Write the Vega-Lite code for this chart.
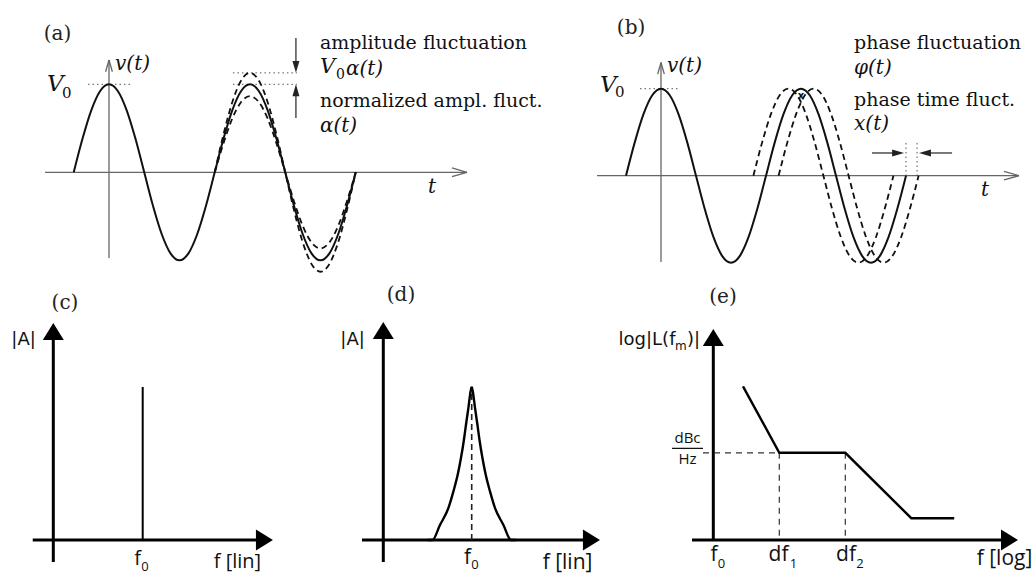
{
  "$schema": "https://vega.github.io/schema/vega-lite/v6.json",
  "padding": 0,
  "background": "white",
  "spacing": 0,
  "config": {"view": {"stroke": null, "fill": "white"}, "concat": {"spacing": 0}},
  "datasets": {
    "carrier": [
      {"x": -0.25, "y": 0}, {"x": -0.1875, "y": 0.383}, {"x": -0.125, "y": 0.707}, {"x": -0.0625, "y": 0.924},
      {"x": 0, "y": 1}, {"x": 0.0625, "y": 0.924}, {"x": 0.125, "y": 0.707}, {"x": 0.1875, "y": 0.383},
      {"x": 0.25, "y": 0}, {"x": 0.3125, "y": -0.383}, {"x": 0.375, "y": -0.707}, {"x": 0.4375, "y": -0.924},
      {"x": 0.5, "y": -1}, {"x": 0.5625, "y": -0.924}, {"x": 0.625, "y": -0.707}, {"x": 0.6875, "y": -0.383},
      {"x": 0.75, "y": 0}, {"x": 0.8125, "y": 0.383}, {"x": 0.875, "y": 0.707}, {"x": 0.9375, "y": 0.924},
      {"x": 1, "y": 1}, {"x": 1.0625, "y": 0.924}, {"x": 1.125, "y": 0.707}, {"x": 1.1875, "y": 0.383},
      {"x": 1.25, "y": 0}, {"x": 1.3125, "y": -0.383}, {"x": 1.375, "y": -0.707}, {"x": 1.4375, "y": -0.924},
      {"x": 1.5, "y": -1}, {"x": 1.5625, "y": -0.924}, {"x": 1.625, "y": -0.707}, {"x": 1.6875, "y": -0.383},
      {"x": 1.75, "y": 0}
    ],
    "a_band": [
      {"g": "upper", "x": 0.75, "y": 0}, {"g": "upper", "x": 0.8125, "y": 0.433}, {"g": "upper", "x": 0.875, "y": 0.799}, {"g": "upper", "x": 0.9375, "y": 1.044},
      {"g": "upper", "x": 1, "y": 1.13}, {"g": "upper", "x": 1.0625, "y": 1.044}, {"g": "upper", "x": 1.125, "y": 0.799}, {"g": "upper", "x": 1.1875, "y": 0.433},
      {"g": "upper", "x": 1.25, "y": 0}, {"g": "upper", "x": 1.3125, "y": -0.433}, {"g": "upper", "x": 1.375, "y": -0.799}, {"g": "upper", "x": 1.4375, "y": -1.044},
      {"g": "upper", "x": 1.5, "y": -1.13}, {"g": "upper", "x": 1.5625, "y": -1.044}, {"g": "upper", "x": 1.625, "y": -0.799}, {"g": "upper", "x": 1.6875, "y": -0.433},
      {"g": "upper", "x": 1.75, "y": 0},
      {"g": "lower", "x": 0.75, "y": 0}, {"g": "lower", "x": 0.8125, "y": 0.331}, {"g": "lower", "x": 0.875, "y": 0.612}, {"g": "lower", "x": 0.9375, "y": 0.799},
      {"g": "lower", "x": 1, "y": 0.865}, {"g": "lower", "x": 1.0625, "y": 0.799}, {"g": "lower", "x": 1.125, "y": 0.612}, {"g": "lower", "x": 1.1875, "y": 0.331},
      {"g": "lower", "x": 1.25, "y": 0}, {"g": "lower", "x": 1.3125, "y": -0.331}, {"g": "lower", "x": 1.375, "y": -0.612}, {"g": "lower", "x": 1.4375, "y": -0.799},
      {"g": "lower", "x": 1.5, "y": -0.865}, {"g": "lower", "x": 1.5625, "y": -0.799}, {"g": "lower", "x": 1.625, "y": -0.612}, {"g": "lower", "x": 1.6875, "y": -0.331},
      {"g": "lower", "x": 1.75, "y": 0}
    ],
    "b_band": [
      {"g": "lead", "x": 0.66, "y": 0}, {"g": "lead", "x": 0.7225, "y": 0.383}, {"g": "lead", "x": 0.785, "y": 0.707}, {"g": "lead", "x": 0.8475, "y": 0.924},
      {"g": "lead", "x": 0.91, "y": 1}, {"g": "lead", "x": 0.9725, "y": 0.924}, {"g": "lead", "x": 1.035, "y": 0.707}, {"g": "lead", "x": 1.0975, "y": 0.383},
      {"g": "lead", "x": 1.16, "y": 0}, {"g": "lead", "x": 1.2225, "y": -0.383}, {"g": "lead", "x": 1.285, "y": -0.707}, {"g": "lead", "x": 1.3475, "y": -0.924},
      {"g": "lead", "x": 1.41, "y": -1}, {"g": "lead", "x": 1.4725, "y": -0.924}, {"g": "lead", "x": 1.535, "y": -0.707}, {"g": "lead", "x": 1.5975, "y": -0.383},
      {"g": "lead", "x": 1.66, "y": 0},
      {"g": "lag", "x": 0.84, "y": 0}, {"g": "lag", "x": 0.9025, "y": 0.383}, {"g": "lag", "x": 0.965, "y": 0.707}, {"g": "lag", "x": 1.0275, "y": 0.924},
      {"g": "lag", "x": 1.09, "y": 1}, {"g": "lag", "x": 1.1525, "y": 0.924}, {"g": "lag", "x": 1.215, "y": 0.707}, {"g": "lag", "x": 1.2775, "y": 0.383},
      {"g": "lag", "x": 1.34, "y": 0}, {"g": "lag", "x": 1.4025, "y": -0.383}, {"g": "lag", "x": 1.465, "y": -0.707}, {"g": "lag", "x": 1.5275, "y": -0.924},
      {"g": "lag", "x": 1.59, "y": -1}, {"g": "lag", "x": 1.6525, "y": -0.924}, {"g": "lag", "x": 1.715, "y": -0.707}, {"g": "lag", "x": 1.7775, "y": -0.383},
      {"g": "lag", "x": 1.84, "y": 0}
    ],
    "a_seg": [
      {"k": "axis", "x": -0.454, "y": 0, "x2": 2.539, "y2": 0},
      {"k": "axis", "x": 0, "y": -0.974, "x2": 0, "y2": 1.276},
      {"k": "axis", "x": 2.433, "y": 0.049, "x2": 2.539, "y2": 0},
      {"k": "axis", "x": 2.433, "y": -0.049, "x2": 2.539, "y2": 0},
      {"k": "axis", "x": -0.024, "y": 1.143, "x2": 0, "y2": 1.276},
      {"k": "axis", "x": 0.024, "y": 1.143, "x2": 0, "y2": 1.276},
      {"k": "guide", "x": -0.149, "y": 1, "x2": 0.149, "y2": 1},
      {"k": "guide", "x": 0.879, "y": 1, "x2": 1.333, "y2": 1},
      {"k": "guide", "x": 0.879, "y": 1.13, "x2": 1.333, "y2": 1.13},
      {"k": "arrow", "x": 1.326, "y": 1.526, "x2": 1.326, "y2": 1.19},
      {"k": "arrow", "x": 1.326, "y": 0.617, "x2": 1.326, "y2": 0.95}
    ],
    "a_head": [
      {"x": 1.326, "y": 1.13, "angle": 180},
      {"x": 1.326, "y": 1.0, "angle": 0}
    ],
    "a_text": [
      {"k": "tag", "x": -0.365, "y": 1.572, "text": "(a)"},
      {"k": "math", "x": 0.043, "y": 1.236, "text": "v(t)"},
      {"k": "V", "x": -0.44, "y": 1.003, "text": "V"},
      {"k": "sub", "x": -0.333, "y": 0.901, "text": "0"},
      {"k": "axis", "x": 2.291, "y": -0.167, "text": "t"},
      {"k": "note", "x": 1.496, "y": 1.469, "text": "amplitude fluctuation"},
      {"k": "Vs", "x": 1.496, "y": 1.191, "text": "V"},
      {"k": "subs", "x": 1.61, "y": 1.106, "text": "0"},
      {"k": "math", "x": 1.681, "y": 1.174, "text": "α(t)"},
      {"k": "note", "x": 1.496, "y": 0.81, "text": "normalized ampl. fluct."},
      {"k": "math", "x": 1.496, "y": 0.526, "text": "α(t)"}
    ],
    "b_seg": [
      {"k": "axis", "x": -0.457, "y": 0, "x2": 2.557, "y2": 0},
      {"k": "axis", "x": 0, "y": -0.992, "x2": 0, "y2": 1.301},
      {"k": "axis", "x": 2.45, "y": 0.049, "x2": 2.557, "y2": 0},
      {"k": "axis", "x": 2.45, "y": -0.049, "x2": 2.557, "y2": 0},
      {"k": "axis", "x": -0.0236, "y": 1.167, "x2": 0, "y2": 1.301},
      {"k": "axis", "x": 0.0236, "y": 1.167, "x2": 0, "y2": 1.301},
      {"k": "guide", "x": -0.15, "y": 1, "x2": 0.136, "y2": 1},
      {"k": "guide", "x": 1.75, "y": 0.376, "x2": 1.75, "y2": -0.015},
      {"k": "guide", "x": 1.829, "y": 0.376, "x2": 1.829, "y2": -0.015},
      {"k": "arrow", "x": 1.507, "y": 0.261, "x2": 1.7, "y2": 0.261},
      {"k": "arrow", "x": 2.079, "y": 0.261, "x2": 1.88, "y2": 0.261}
    ],
    "b_head": [
      {"x": 1.736, "y": 0.261, "angle": 90},
      {"x": 1.843, "y": 0.261, "angle": 270}
    ],
    "b_text": [
      {"k": "tag", "x": -0.214, "y": 1.698, "text": "(b)"},
      {"k": "math", "x": 0.043, "y": 1.261, "text": "v(t)"},
      {"k": "V", "x": -0.436, "y": 1.042, "text": "V"},
      {"k": "sub", "x": -0.329, "y": 0.962, "text": "0"},
      {"k": "axis", "x": 2.314, "y": -0.165, "text": "t"},
      {"k": "note", "x": 1.379, "y": 1.525, "text": "phase fluctuation"},
      {"k": "math", "x": 1.379, "y": 1.238, "text": "φ(t)"},
      {"k": "note", "x": 1.379, "y": 0.87, "text": "phase time fluct."},
      {"k": "math", "x": 1.379, "y": 0.594, "text": "x(t)"},
      {"k": "mark", "x": 1.0, "y": 0.916, "text": "x"}
    ],
    "c_seg": [
      {"k": "axis", "x": 0, "y": -0.144, "x2": 0, "y2": 1.33},
      {"k": "axis", "x": -0.23, "y": 0, "x2": 2.35, "y2": 0},
      {"k": "line", "x": 1, "y": 0, "x2": 1, "y2": 1}
    ],
    "c_head": [
      {"x": 0, "y": 1.418, "angle": 0},
      {"x": 2.457, "y": 0, "angle": 90}
    ],
    "c_text": [
      {"k": "tag", "x": 0.131, "y": 1.549, "text": "(c)"},
      {"k": "ylab", "x": -0.333, "y": 1.307, "text": "|A|"},
      {"k": "lab", "x": 0.942, "y": -0.124, "text": "f"},
      {"k": "sub", "x": 1.026, "y": -0.176, "text": "0"},
      {"k": "lab", "x": 2.06, "y": -0.144, "text": "f [lin]"}
    ],
    "d_seg": [
      {"k": "axis", "x": 0, "y": -0.1435, "x2": 0, "y2": 1.33},
      {"k": "axis", "x": -0.241, "y": 0, "x2": 2.35, "y2": 0},
      {"k": "guide", "x": 1, "y": 0, "x2": 1, "y2": 1}
    ],
    "d_head": [
      {"x": 0, "y": 1.422, "angle": 0},
      {"x": 2.451, "y": 0, "angle": 90}
    ],
    "d_curve": [
      {"g": "left", "x": 0.5, "y": 0},
      {"g": "left", "x": 0.555, "y": 0}, {"g": "left", "x": 0.641, "y": 0.098}, {"g": "left", "x": 0.736, "y": 0.208},
      {"g": "left", "x": 0.793, "y": 0.317}, {"g": "left", "x": 0.842, "y": 0.427}, {"g": "left", "x": 0.879, "y": 0.536},
      {"g": "left", "x": 0.91, "y": 0.646}, {"g": "left", "x": 0.936, "y": 0.755}, {"g": "left", "x": 0.963, "y": 0.864},
      {"g": "left", "x": 0.989, "y": 0.974}, {"g": "left", "x": 1, "y": 1},
      {"g": "right", "x": 1, "y": 1}, {"g": "right", "x": 1.011, "y": 0.974}, {"g": "right", "x": 1.037, "y": 0.864},
      {"g": "right", "x": 1.064, "y": 0.755}, {"g": "right", "x": 1.09, "y": 0.646}, {"g": "right", "x": 1.121, "y": 0.536},
      {"g": "right", "x": 1.158, "y": 0.427}, {"g": "right", "x": 1.207, "y": 0.317}, {"g": "right", "x": 1.264, "y": 0.208},
      {"g": "right", "x": 1.359, "y": 0.098}, {"g": "right", "x": 1.445, "y": 0},
      {"g": "right", "x": 1.5, "y": 0}
    ],
    "d_text": [
      {"k": "tag", "x": 0.2, "y": 1.598, "text": "(d)"},
      {"k": "ylab", "x": -0.348, "y": 1.305, "text": "|A|"},
      {"k": "lab", "x": 0.952, "y": -0.117, "text": "f"},
      {"k": "sub", "x": 1.037, "y": -0.163, "text": "0"},
      {"k": "lab", "x": 2.084, "y": -0.147, "text": "f [lin]"}
    ],
    "e_seg": [
      {"k": "axis", "x": 0, "y": -170, "x2": 0, "y2": -78},
      {"k": "axis", "x": -0.323, "y": -170, "x2": 4.45, "y2": -170},
      {"k": "guide", "x": -0.156, "y": -130, "x2": 1, "y2": -130},
      {"k": "guide", "x": 1, "y": -130, "x2": 1, "y2": -170},
      {"k": "guide", "x": 2, "y": -130, "x2": 2, "y2": -170},
      {"k": "bar", "x": -0.626, "y": -127.94, "x2": -0.156, "y2": -127.94}
    ],
    "e_head": [
      {"x": 0, "y": -73.2, "angle": 0},
      {"x": 4.617, "y": -170, "angle": 90}
    ],
    "e_curve": [
      {"x": 0.45, "y": -99.5}, {"x": 1, "y": -130}, {"x": 2, "y": -130}, {"x": 3, "y": -160}, {"x": 3.65, "y": -160}
    ],
    "e_text": [
      {"k": "tag", "x": 0.147, "y": -58.53, "text": "(e)"},
      {"k": "ylabr", "x": -0.573, "y": -78.26, "text": "log|L(f"},
      {"k": "subr", "x": -0.402, "y": -81.0, "text": "m"},
      {"k": "ylabr", "x": -0.2015, "y": -78.26, "text": ")|"},
      {"k": "frac", "x": -0.391, "y": -123.44, "text": "dBc"},
      {"k": "frac", "x": -0.391, "y": -132.84, "text": "Hz"},
      {"k": "lab", "x": 0.0106, "y": -176.88, "text": "f"},
      {"k": "sub", "x": 0.124, "y": -180.78, "text": "0"},
      {"k": "lab", "x": 0.988, "y": -176.88, "text": "df"},
      {"k": "sub", "x": 1.215, "y": -181.0, "text": "1"},
      {"k": "lab", "x": 2.011, "y": -176.88, "text": "df"},
      {"k": "sub", "x": 2.223, "y": -181.0, "text": "2"},
      {"k": "lab", "x": 4.412, "y": -178.72, "text": "f [log]"}
    ]
  },
  "vconcat": [
    {
      "spacing": 0,
      "hconcat": [
        {
          "width": 560,
          "height": 280,
          "encoding": {
            "x": {"field": "x", "type": "quantitative", "scale": {"domain": [-0.773, 3.199], "nice": false, "zero": false}, "axis": null},
            "y": {"field": "y", "type": "quantitative", "scale": {"domain": [-1.224, 1.958], "nice": false, "zero": false}, "axis": null}
          },
          "layer": [
            {"data": {"name": "a_seg"}, "transform": [{"filter": "datum.k == 'axis'"}], "mark": {"type": "rule", "stroke": "#666", "strokeWidth": 1.3}, "encoding": {"x2": {"field": "x2"}, "y2": {"field": "y2"}}},
            {"data": {"name": "a_seg"}, "transform": [{"filter": "datum.k == 'guide'"}], "mark": {"type": "rule", "stroke": "#555", "strokeWidth": 1, "strokeDash": [1.5, 3]}, "encoding": {"x2": {"field": "x2"}, "y2": {"field": "y2"}}},
            {"data": {"name": "a_seg"}, "transform": [{"filter": "datum.k == 'arrow'"}], "mark": {"type": "rule", "stroke": "#222", "strokeWidth": 1.2}, "encoding": {"x2": {"field": "x2"}, "y2": {"field": "y2"}}},
            {"data": {"name": "a_head"}, "mark": {"type": "point", "shape": "M0,0L-0.5,1.7L0.5,1.7Z", "filled": true, "size": 196, "color": "#222", "opacity": 1}, "encoding": {"angle": {"field": "angle", "type": "quantitative", "scale": null}}},
            {"data": {"name": "carrier"}, "mark": {"type": "line", "interpolate": "monotone", "stroke": "#111", "strokeWidth": 2}, "encoding": {}},
            {"data": {"name": "a_band"}, "mark": {"type": "line", "interpolate": "monotone", "stroke": "#111", "strokeWidth": 1.8, "strokeDash": [6, 4]}, "encoding": {"detail": {"field": "g"}}},
            {"data": {"name": "a_text"}, "transform": [{"filter": "datum.k == 'tag'"}], "mark": {"type": "text", "font": "DejaVu Serif", "fontSize": 20, "align": "center", "baseline": "middle", "color": "#222"}, "encoding": {"text": {"field": "text"}}},
            {"data": {"name": "a_text"}, "transform": [{"filter": "datum.k == 'note'"}], "mark": {"type": "text", "font": "DejaVu Serif", "fontSize": 19, "align": "left", "baseline": "middle", "color": "#111"}, "encoding": {"text": {"field": "text"}}},
            {"data": {"name": "a_text"}, "transform": [{"filter": "datum.k == 'math'"}], "mark": {"type": "text", "font": "DejaVu Serif", "fontStyle": "italic", "fontSize": 20, "align": "left", "baseline": "middle", "color": "#111"}, "encoding": {"text": {"field": "text"}}},
            {"data": {"name": "a_text"}, "transform": [{"filter": "datum.k == 'axis'"}], "mark": {"type": "text", "font": "DejaVu Serif", "fontStyle": "italic", "fontSize": 20, "align": "center", "baseline": "middle", "color": "#111"}, "encoding": {"text": {"field": "text"}}},
            {"data": {"name": "a_text"}, "transform": [{"filter": "datum.k == 'V'"}], "mark": {"type": "text", "font": "DejaVu Serif", "fontStyle": "italic", "fontSize": 23, "align": "left", "baseline": "middle", "color": "#111"}, "encoding": {"text": {"field": "text"}}},
            {"data": {"name": "a_text"}, "transform": [{"filter": "datum.k == 'sub'"}], "mark": {"type": "text", "font": "DejaVu Serif", "fontSize": 15, "align": "left", "baseline": "middle", "color": "#111"}, "encoding": {"text": {"field": "text"}}},
            {"data": {"name": "a_text"}, "transform": [{"filter": "datum.k == 'Vs'"}], "mark": {"type": "text", "font": "DejaVu Serif", "fontStyle": "italic", "fontSize": 21, "align": "left", "baseline": "middle", "color": "#111"}, "encoding": {"text": {"field": "text"}}},
            {"data": {"name": "a_text"}, "transform": [{"filter": "datum.k == 'subs'"}], "mark": {"type": "text", "font": "DejaVu Serif", "fontSize": 14, "align": "left", "baseline": "middle", "color": "#111"}, "encoding": {"text": {"field": "text"}}}
          ]
        },
        {
          "width": 473,
          "height": 280,
          "encoding": {
            "x": {"field": "x", "type": "quantitative", "scale": {"domain": [-0.7214, 2.6571], "nice": false, "zero": false}, "axis": null},
            "y": {"field": "y", "type": "quantitative", "scale": {"domain": [-1.1989, 2.0195], "nice": false, "zero": false}, "axis": null}
          },
          "layer": [
            {"data": {"name": "b_seg"}, "transform": [{"filter": "datum.k == 'axis'"}], "mark": {"type": "rule", "stroke": "#666", "strokeWidth": 1.3}, "encoding": {"x2": {"field": "x2"}, "y2": {"field": "y2"}}},
            {"data": {"name": "b_seg"}, "transform": [{"filter": "datum.k == 'guide'"}], "mark": {"type": "rule", "stroke": "#555", "strokeWidth": 1, "strokeDash": [1.5, 3]}, "encoding": {"x2": {"field": "x2"}, "y2": {"field": "y2"}}},
            {"data": {"name": "b_seg"}, "transform": [{"filter": "datum.k == 'arrow'"}], "mark": {"type": "rule", "stroke": "#222", "strokeWidth": 1.2}, "encoding": {"x2": {"field": "x2"}, "y2": {"field": "y2"}}},
            {"data": {"name": "b_head"}, "mark": {"type": "point", "shape": "M0,0L-0.5,1.7L0.5,1.7Z", "filled": true, "size": 196, "color": "#222", "opacity": 1}, "encoding": {"angle": {"field": "angle", "type": "quantitative", "scale": null}}},
            {"data": {"name": "carrier"}, "mark": {"type": "line", "interpolate": "monotone", "stroke": "#111", "strokeWidth": 2}, "encoding": {}},
            {"data": {"name": "b_band"}, "mark": {"type": "line", "interpolate": "monotone", "stroke": "#111", "strokeWidth": 1.8, "strokeDash": [6, 4]}, "encoding": {"detail": {"field": "g"}}},
            {"data": {"name": "b_text"}, "transform": [{"filter": "datum.k == 'tag'"}], "mark": {"type": "text", "font": "DejaVu Serif", "fontSize": 20, "align": "center", "baseline": "middle", "color": "#222"}, "encoding": {"text": {"field": "text"}}},
            {"data": {"name": "b_text"}, "transform": [{"filter": "datum.k == 'note'"}], "mark": {"type": "text", "font": "DejaVu Serif", "fontSize": 19, "align": "left", "baseline": "middle", "color": "#111"}, "encoding": {"text": {"field": "text"}}},
            {"data": {"name": "b_text"}, "transform": [{"filter": "datum.k == 'math'"}], "mark": {"type": "text", "font": "DejaVu Serif", "fontStyle": "italic", "fontSize": 20, "align": "left", "baseline": "middle", "color": "#111"}, "encoding": {"text": {"field": "text"}}},
            {"data": {"name": "b_text"}, "transform": [{"filter": "datum.k == 'axis'"}], "mark": {"type": "text", "font": "DejaVu Serif", "fontStyle": "italic", "fontSize": 20, "align": "center", "baseline": "middle", "color": "#111"}, "encoding": {"text": {"field": "text"}}},
            {"data": {"name": "b_text"}, "transform": [{"filter": "datum.k == 'V'"}], "mark": {"type": "text", "font": "DejaVu Serif", "fontStyle": "italic", "fontSize": 23, "align": "left", "baseline": "middle", "color": "#111"}, "encoding": {"text": {"field": "text"}}},
            {"data": {"name": "b_text"}, "transform": [{"filter": "datum.k == 'sub'"}], "mark": {"type": "text", "font": "DejaVu Serif", "fontSize": 15, "align": "left", "baseline": "middle", "color": "#111"}, "encoding": {"text": {"field": "text"}}},
            {"data": {"name": "b_text"}, "transform": [{"filter": "datum.k == 'mark'"}], "mark": {"type": "text", "font": "DejaVu Sans", "fontWeight": "bold", "fontSize": 10, "align": "center", "baseline": "middle", "color": "#111"}, "encoding": {"text": {"field": "text"}}}
          ]
        }
      ]
    },
    {
      "spacing": 0,
      "hconcat": [
        {
          "width": 320,
          "height": 294,
          "encoding": {
            "x": {"field": "x", "type": "quantitative", "scale": {"domain": [-0.5962, 2.9832], "nice": false, "zero": false}, "axis": null},
            "y": {"field": "y", "type": "quantitative", "scale": {"domain": [-0.2222, 1.6993], "nice": false, "zero": false}, "axis": null}
          },
          "layer": [
            {"data": {"name": "c_seg"}, "transform": [{"filter": "datum.k == 'axis'"}], "mark": {"type": "rule", "stroke": "#000", "strokeWidth": 3}, "encoding": {"x2": {"field": "x2"}, "y2": {"field": "y2"}}},
            {"data": {"name": "c_seg"}, "transform": [{"filter": "datum.k == 'line'"}], "mark": {"type": "rule", "stroke": "#000", "strokeWidth": 2}, "encoding": {"x2": {"field": "x2"}, "y2": {"field": "y2"}}},
            {"data": {"name": "c_head"}, "mark": {"type": "point", "shape": "M0,0L-1,1.62L1,1.62Z", "filled": true, "size": 441, "color": "#000", "opacity": 1}, "encoding": {"angle": {"field": "angle", "type": "quantitative", "scale": null}}},
            {"data": {"name": "c_text"}, "transform": [{"filter": "datum.k == 'tag'"}], "mark": {"type": "text", "font": "DejaVu Serif", "fontSize": 20, "align": "center", "baseline": "middle", "color": "#222"}, "encoding": {"text": {"field": "text"}}},
            {"data": {"name": "c_text"}, "transform": [{"filter": "datum.k == 'ylab'"}], "mark": {"type": "text", "font": "DejaVu Sans", "fontSize": 18, "align": "center", "baseline": "middle", "color": "#111"}, "encoding": {"text": {"field": "text"}}},
            {"data": {"name": "c_text"}, "transform": [{"filter": "datum.k == 'lab'"}], "mark": {"type": "text", "font": "Open Sans", "fontSize": 20, "align": "center", "baseline": "middle", "color": "#111"}, "encoding": {"text": {"field": "text"}}},
            {"data": {"name": "c_text"}, "transform": [{"filter": "datum.k == 'sub'"}], "mark": {"type": "text", "font": "Open Sans", "fontSize": 13, "align": "center", "baseline": "middle", "color": "#111"}, "encoding": {"text": {"field": "text"}}}
          ]
        },
        {
          "width": 280,
          "height": 294,
          "encoding": {
            "x": {"field": "x", "type": "quantitative", "scale": {"domain": [-0.7161, 2.4513], "nice": false, "zero": false}, "axis": null},
            "y": {"field": "y", "type": "quantitative", "scale": {"domain": [-0.2218, 1.696], "nice": false, "zero": false}, "axis": null}
          },
          "layer": [
            {"data": {"name": "d_seg"}, "transform": [{"filter": "datum.k == 'axis'"}], "mark": {"type": "rule", "stroke": "#000", "strokeWidth": 3}, "encoding": {"x2": {"field": "x2"}, "y2": {"field": "y2"}}},
            {"data": {"name": "d_seg"}, "transform": [{"filter": "datum.k == 'guide'"}], "mark": {"type": "rule", "stroke": "#222", "strokeWidth": 1.6, "strokeDash": [6, 4]}, "encoding": {"x2": {"field": "x2"}, "y2": {"field": "y2"}}},
            {"data": {"name": "d_head"}, "mark": {"type": "point", "shape": "M0,0L-1,1.62L1,1.62Z", "filled": true, "size": 441, "color": "#000", "opacity": 1}, "encoding": {"angle": {"field": "angle", "type": "quantitative", "scale": null}}},
            {"data": {"name": "d_curve"}, "mark": {"type": "line", "interpolate": "monotone", "stroke": "#000", "strokeWidth": 2.4}, "encoding": {"detail": {"field": "g"}}},
            {"data": {"name": "d_text"}, "transform": [{"filter": "datum.k == 'tag'"}], "mark": {"type": "text", "font": "DejaVu Serif", "fontSize": 20, "align": "center", "baseline": "middle", "color": "#222"}, "encoding": {"text": {"field": "text"}}},
            {"data": {"name": "d_text"}, "transform": [{"filter": "datum.k == 'ylab'"}], "mark": {"type": "text", "font": "DejaVu Sans", "fontSize": 18, "align": "center", "baseline": "middle", "color": "#111"}, "encoding": {"text": {"field": "text"}}},
            {"data": {"name": "d_text"}, "transform": [{"filter": "datum.k == 'lab'"}], "mark": {"type": "text", "font": "Open Sans", "fontSize": 21, "align": "center", "baseline": "middle", "color": "#111"}, "encoding": {"text": {"field": "text"}}},
            {"data": {"name": "d_text"}, "transform": [{"filter": "datum.k == 'sub'"}], "mark": {"type": "text", "font": "Open Sans", "fontSize": 13, "align": "center", "baseline": "middle", "color": "#111"}, "encoding": {"text": {"field": "text"}}}
          ]
        },
        {
          "width": 433,
          "height": 294,
          "encoding": {
            "x": {"field": "x", "type": "quantitative", "scale": {"domain": [-1.7167, 4.8439], "nice": false, "zero": false}, "axis": null},
            "y": {"field": "y", "type": "quantitative", "scale": {"domain": [-185.596, -50.734], "nice": false, "zero": false}, "axis": null}
          },
          "layer": [
            {"data": {"name": "e_seg"}, "transform": [{"filter": "datum.k == 'axis'"}], "mark": {"type": "rule", "stroke": "#000", "strokeWidth": 3}, "encoding": {"x2": {"field": "x2"}, "y2": {"field": "y2"}}},
            {"data": {"name": "e_seg"}, "transform": [{"filter": "datum.k == 'guide'"}], "mark": {"type": "rule", "stroke": "#333", "strokeWidth": 1.2, "strokeDash": [6, 5]}, "encoding": {"x2": {"field": "x2"}, "y2": {"field": "y2"}}},
            {"data": {"name": "e_seg"}, "transform": [{"filter": "datum.k == 'bar'"}], "mark": {"type": "rule", "stroke": "#111", "strokeWidth": 1.2}, "encoding": {"x2": {"field": "x2"}, "y2": {"field": "y2"}}},
            {"data": {"name": "e_head"}, "mark": {"type": "point", "shape": "M0,0L-1,1.62L1,1.62Z", "filled": true, "size": 441, "color": "#000", "opacity": 1}, "encoding": {"angle": {"field": "angle", "type": "quantitative", "scale": null}}},
            {"data": {"name": "e_curve"}, "mark": {"type": "line", "stroke": "#000", "strokeWidth": 2.4}, "encoding": {}},
            {"data": {"name": "e_text"}, "transform": [{"filter": "datum.k == 'tag'"}], "mark": {"type": "text", "font": "DejaVu Serif", "fontSize": 20, "align": "center", "baseline": "middle", "color": "#222"}, "encoding": {"text": {"field": "text"}}},
            {"data": {"name": "e_text"}, "transform": [{"filter": "datum.k == 'ylabr'"}], "mark": {"type": "text", "font": "DejaVu Sans", "fontSize": 18, "align": "right", "baseline": "middle", "color": "#111"}, "encoding": {"text": {"field": "text"}}},
            {"data": {"name": "e_text"}, "transform": [{"filter": "datum.k == 'subr'"}], "mark": {"type": "text", "font": "DejaVu Sans", "fontSize": 12, "align": "right", "baseline": "middle", "color": "#111"}, "encoding": {"text": {"field": "text"}}},
            {"data": {"name": "e_text"}, "transform": [{"filter": "datum.k == 'frac'"}], "mark": {"type": "text", "font": "Open Sans", "fontSize": 15, "align": "center", "baseline": "middle", "color": "#111"}, "encoding": {"text": {"field": "text"}}},
            {"data": {"name": "e_text"}, "transform": [{"filter": "datum.k == 'lab'"}], "mark": {"type": "text", "font": "Open Sans", "fontSize": 21, "align": "center", "baseline": "middle", "color": "#111"}, "encoding": {"text": {"field": "text"}}},
            {"data": {"name": "e_text"}, "transform": [{"filter": "datum.k == 'sub'"}], "mark": {"type": "text", "font": "Open Sans", "fontSize": 13, "align": "center", "baseline": "middle", "color": "#111"}, "encoding": {"text": {"field": "text"}}}
          ]
        }
      ]
    }
  ]
}
